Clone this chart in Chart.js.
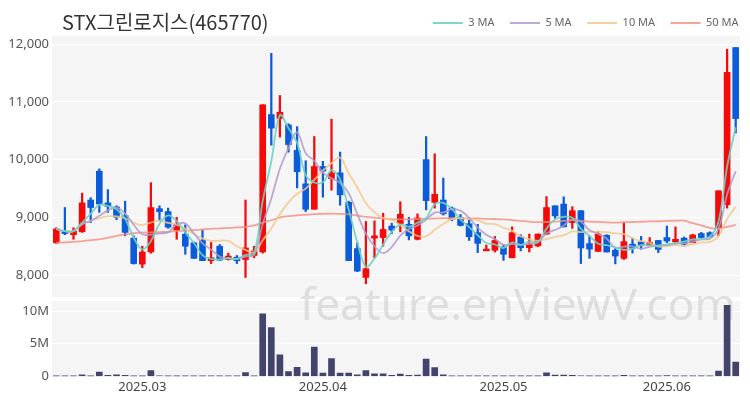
<!DOCTYPE html>
<html><head><meta charset="utf-8">
<script src="https://cdn.jsdelivr.net/npm/chart.js@4.4.1/dist/chart.umd.min.js"></script>
<style>
html,body{margin:0;padding:0;background:#fff;}
#wrap{position:relative;width:750px;height:400px;}
#title{position:absolute;left:62px;top:9px;font:20px 'Noto Sans CJK KR','Noto Sans',sans-serif;color:#333;line-height:26px;white-space:nowrap;}
canvas{position:absolute;left:0;top:0;}
</style></head>
<body><div id="wrap"><canvas id="c" width="750" height="400"></canvas><div id="title">STX그린로지스(465770)</div></div>
<script>
// ---- data ----
const openP  = [8560,8760,8700,8750,9300,9800,9250,9180,9030,8640, 8190,8400,9150,9100,8780,8710,8560,8600,8250,8500, 8270,8310,8270,8340,8400,10780,10710,10600,10160,9580, 9140,9880,9670,9770,9260,8460,7960,8640,8650,8850, 8890,8880,8620,10000,9260,9300,9160,9000,8890,8735, 8420,8430,8485,8300,8660,8475,8505,8710,9200,9230, 8910,9115,8545,8410,8690,8430,8290,8535,8575,8520, 8600,8650,8575,8640,8560,8720,8735,8820,9220,11940];
const highP  = [8820,9170,8820,9420,9340,9840,9480,9200,9280,8680, 8500,9600,9200,9160,9000,8870,8570,8780,8565,8530, 8380,8340,9300,8500,10950,11840,11110,10620,10570,9980, 10400,9970,10700,10130,9280,8560,8930,8940,9070,8900, 9270,9000,9060,10400,10100,9680,9180,9050,8950,8880, 8520,8670,8520,8835,8700,8710,8715,9360,9200,9355, 9185,9120,8680,8760,8700,8475,8910,8640,8670,8650, 8600,8850,8835,8660,8710,8740,8750,9460,11910,11940];
const lowP   = [8550,8700,8620,8740,8910,9085,9085,8960,8680,8190, 8130,8380,8940,8810,8620,8360,8290,8250,8200,8250, 8260,8200,7960,8300,8380,10250,10390,10130,9510,9100, 9140,9350,9470,9210,8250,8060,7850,8300,8500,8720, 8750,8610,8610,9130,9160,9040,8940,8850,8600,8390, 8420,8400,8255,8300,8420,8400,8490,8700,8980,8835, 8810,8200,8290,8410,8400,8195,8270,8380,8450,8520, 8390,8560,8545,8500,8560,8640,8660,8680,9160,10460];
const closeP = [8800,8720,8760,9250,9170,9230,9190,9000,8740,8200, 8400,9170,9100,8830,8880,8500,8290,8250,8300,8260, 8330,8250,8470,8420,10950,10545,10820,10260,9790,9140, 9880,9800,9770,9390,8250,8070,8110,8680,8790,8780, 9055,8680,8990,9290,9400,9060,8970,8860,8665,8550, 8450,8600,8360,8735,8475,8535,8710,9170,9025,8835, 9115,8470,8450,8710,8400,8330,8580,8465,8515,8565, 8445,8590,8620,8535,8695,8650,8660,9460,11510,10710];
// volume in millions of shares
const volumeM = [0.05,0.05,0.05,0.25,0.05,0.65,0.15,0.25,0.15,0.05, 0.05,0.9,0.1,0.05,0.03,0.03,0.03,0.03,0.03,0.03, 0.03,0.03,0.6,0.05,9.6,7.5,3.3,0.75,1.4,0.55, 4.5,0.5,2.75,0.5,0.5,0.25,0.9,0.4,0.4,0.15, 0.35,0.15,0.2,2.65,1.35,0.25,0.05,0.04,0.04,0.04, 0.04,0.04,0.04,0.04,0.04,0.04,0.04,0.55,0.2,0.2, 0.15,0.1,0.05,0.05,0.05,0.05,0.15,0.05,0.05,0.05, 0.05,0.12,0.05,0.05,0.05,0.05,0.05,0.8,10.9,2.2];
const ma50Lead = [8560,8565,8575,8590,8605,8620,8645,8680,8705,8725, 8735,8740,8745,8750,8760,8770,8780,8790,8800,8810, 8815,8825,8835,8860,8910,8950,9000,9020,9035,9045, 9055,9060,9065,9060,9050,9030,9010,8995,8980,8970, 8965,8965,8970,8975,8980,8985,8985,8985,8980];
const tickIdx    = [10,31,52,71];
const tickText   = ['2025.03','2025.04','2025.05','2025.06'];
const priceTicks = [8000,9000,10000,11000,12000];
const volTicks   = [0,5,10];
const maNames  = ['3 MA','5 MA','10 MA','50 MA'];
const maColors = ['rgba(110,210,195,0.9)','rgba(175,155,205,0.85)','rgba(245,200,140,0.85)','rgba(245,140,125,0.8)'];

const categories = closeP.map((_, i) => i);
const RED = '#f50a0a', BLUE = '#0c5bd8';
const candleColor = closeP.map((c, i) => c >= openP[i] ? RED : BLUE);

function movingAvg(n, i) {
  const s = Math.max(0, i - n + 1);
  let sum = 0;
  for (let k = s; k <= i; k++) sum += closeP[k];
  return sum / (i - s + 1);
}
const ma3  = closeP.map((_, i) => movingAvg(3, i));
const ma5  = closeP.map((_, i) => movingAvg(5, i));
const ma10 = closeP.map((_, i) => movingAvg(10, i));
const ma50 = closeP.map((_, i) => i < ma50Lead.length ? ma50Lead[i] : movingAvg(50, i));
const maData = [ma3, ma5, ma10, ma50];

const FONT = "'Noto Sans', sans-serif";
const BG = '#f5f5f6';

const bgPlugin = {
  id: 'panels',
  beforeDraw(chart) {
    const {ctx, chartArea: ca, scales} = chart;
    ctx.save();
    ctx.fillStyle = BG;
    const y = scales.y, yv = scales.yv;
    ctx.fillRect(ca.left, y.top, ca.right - ca.left, y.bottom - y.top - 2);
    ctx.fillRect(ca.left, yv.top + 2, ca.right - ca.left, yv.bottom - yv.top - 2);
    ctx.restore();
  },
  beforeDatasetsDraw(chart) {
    const ctx = chart.ctx;
    ctx.save();
    const txt = 'feature.enViewV.com';
    ctx.font = '44px ' + FONT;
    const w = ctx.measureText(txt).width;
    const size = 44 * 436 / w;
    ctx.font = size.toFixed(1) + 'px ' + FONT;
    ctx.fillStyle = 'rgba(200,200,200,0.55)';
    ctx.textBaseline = 'alphabetic';
    ctx.fillText(txt, 300, 320);
    ctx.restore();
  },
  afterLayout(chart) {
    if (chart.legend) { chart.legend.left += 14; chart.legend.right += 14; }
  }
};

const datasets = [];
maNames.forEach((name, k) => {
  datasets.push({
    type: 'line', label: name, isMA: true, data: maData[k], yAxisID: 'y',
    borderColor: maColors[k], backgroundColor: maColors[k], borderWidth: 1.8,
    pointRadius: 0, tension: 0.35, order: 0
  });
});
datasets.push({
  type: 'bar', label: 'wick', data: lowP.map((l, i) => [l, highP[i]]), yAxisID: 'y',
  backgroundColor: candleColor, barThickness: 1.6, grouped: false, order: 3
});
datasets.push({
  type: 'bar', label: 'body', data: openP.map((o, i) => [o, closeP[i]]), yAxisID: 'y',
  backgroundColor: candleColor, barThickness: 6, minBarLength: 1.5, grouped: false, order: 2
});
datasets.push({
  type: 'bar', label: 'volume', data: volumeM, yAxisID: 'yv',
  backgroundColor: '#43446c', barThickness: 6, grouped: false, order: 1
});

const fixWidth = (scale) => { scale.width = 52; };

new Chart(document.getElementById('c'), {
  type: 'bar',
  data: { labels: categories, datasets },
  plugins: [bgPlugin],
  options: {
    responsive: false, animation: false, devicePixelRatio: 1,
    layout: { padding: { top: 2, right: 10, bottom: 2, left: 0 } },
    plugins: {
      tooltip: { enabled: false },
      title: { display: false },
      legend: {
        display: true, position: 'top', align: 'end', maxHeight: 34,
        labels: {
          boxWidth: 30, boxHeight: 2, padding: 15.5, color: '#666',
          font: { family: FONT, size: 11 },
          generateLabels(chart) {
            return chart.data.datasets.map((d, i) => ({ d, i })).filter(o => o.d.isMA).map(o => ({
              text: o.d.label, fillStyle: o.d.borderColor, strokeStyle: o.d.borderColor,
              lineWidth: 0, hidden: false, datasetIndex: o.i, fontColor: '#666'
            }));
          }
        }
      }
    },
    scales: {
      x: {
        type: 'category', offset: true,
        grid: { display: false, drawTicks: false },
        border: { display: false },
        ticks: {
          autoSkip: false, maxRotation: 0, minRotation: 0, padding: 3,
          color: '#444', font: { family: FONT, size: 13 },
          callback(v, i) { const k = tickIdx.indexOf(i); return k >= 0 ? tickText[k] : ''; }
        }
      },
      yv: {
        type: 'linear', position: 'left', stack: 'main', stackWeight: 77,
        min: 0, max: 11.85,
        grid: { color: '#ffffff', lineWidth: 1, drawTicks: false },
        border: { display: false },
        afterBuildTicks(scale) { scale.ticks = volTicks.map(v => ({ value: v })); },
        ticks: {
          padding: 3, color: '#555',
          font: { family: FONT, size: 13 },
          callback(v) { return v === 0 ? '0' : v + 'M'; }
        },
        afterFit: fixWidth
      },
      y: {
        type: 'linear', position: 'left', stack: 'main', stackWeight: 262,
        min: 7585, max: 12140,
        grid: { color: '#ffffff', lineWidth: 1, drawTicks: false },
        border: { display: false },
        afterBuildTicks(scale) { scale.ticks = priceTicks.map(v => ({ value: v })); },
        ticks: {
          padding: 3, color: '#555',
          font: { family: FONT, size: 13 },
          callback(v) { return v.toLocaleString('en-US'); }
        },
        afterFit: fixWidth
      }
    }
  }
});
</script>
</body></html>
